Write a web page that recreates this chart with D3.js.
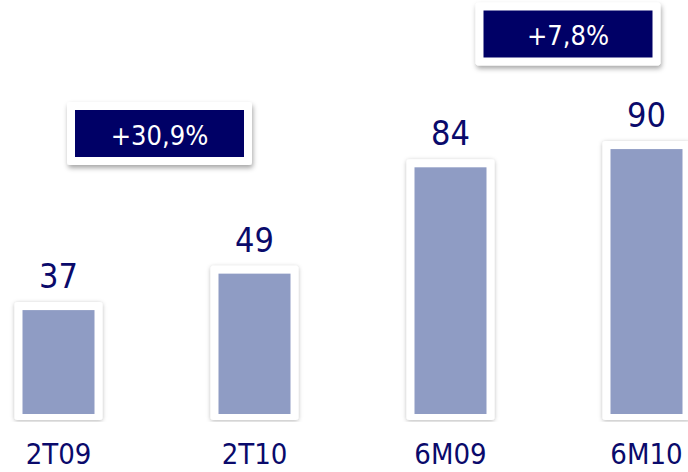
<!DOCTYPE html>
<html>
<head>
<meta charset="utf-8">
<script src="https://cdn.jsdelivr.net/npm/d3@7/dist/d3.min.js"></script>
<style>
  html, body { margin: 0; padding: 0; background: #ffffff; }
  svg { display: block; }
  text { font-family: "DejaVu Sans Condensed", "DejaVu Sans", Verdana, sans-serif; }
</style>
</head>
<body>
<script>
// ---- data ----
const categories = ["2T09", "2T10", "6M09", "6M10"];
const values = [37, 49, 84, 90];
const growthLabels = ["+30,9%", "+7,8%"];
const growthFrom = ["2T09", "6M09"];
const growthTo = ["2T10", "6M10"];

// ---- layout ----
const W = 688, H = 472;
const barW = 72, pad = 8;
const baseY = 414;

const svg = d3.select("body").append("svg").attr("width", W).attr("height", H);

const defs = svg.append("defs");
const f = defs.append("filter").attr("id", "shadow")
  .attr("x", "-20%").attr("y", "-20%").attr("width", "140%").attr("height", "150%");
f.append("feDropShadow").attr("dx", 0).attr("dy", 1).attr("stdDeviation", 2)
  .attr("flood-color", "#000").attr("flood-opacity", 0.28);
const f2 = defs.append("filter").attr("id", "shadow2")
  .attr("x", "-20%").attr("y", "-30%").attr("width", "140%").attr("height", "170%");
f2.append("feDropShadow").attr("dx", 1).attr("dy", 3).attr("stdDeviation", 2.5)
  .attr("flood-color", "#000").attr("flood-opacity", 0.35);
defs.append("clipPath").attr("id", "clipBase")
  .append("rect").attr("x", 0).attr("y", 0).attr("width", W).attr("height", baseY + pad);

const x = d3.scalePoint().domain(categories).range([58.5, 646.5]);
const y = d3.scaleLinear().domain([2.8, 100]).range([baseY, 118.7]);

const data = categories.map((c, i) => ({ c, v: values[i] }));

// frames (white with shadow)
const frames = svg.append("g").attr("clip-path", "url(#clipBase)");
frames.selectAll("rect").data(data).join("rect")
  .attr("x", d => x(d.c) - barW / 2 - pad)
  .attr("y", d => y(d.v) - pad)
  .attr("width", barW + 2 * pad)
  .attr("height", d => baseY - y(d.v) + pad + 6)
  .attr("rx", 3)
  .attr("fill", "#ffffff")
  .attr("filter", "url(#shadow)");

// bars
svg.append("g").selectAll("rect").data(data).join("rect")
  .attr("x", d => x(d.c) - barW / 2)
  .attr("y", d => y(d.v))
  .attr("width", barW)
  .attr("height", d => baseY - y(d.v))
  .attr("fill", "#8f9cc4");

// value labels
svg.append("g").selectAll("text").data(data).join("text")
  .attr("x", d => x(d.c))
  .attr("y", d => y(d.v) - 22)
  .attr("text-anchor", "middle")
  .attr("font-size", 34)
  .attr("fill", "#0a0a6b")
  .text(d => d.v);

// category labels
svg.append("g").selectAll("text").data(data).join("text")
  .attr("x", d => x(d.c))
  .attr("y", 464)
  .attr("text-anchor", "middle")
  .attr("font-size", 29)
  .attr("fill", "#0a0a6b")
  .text(d => d.c);

// growth boxes
const boxW = 169, boxH = 47;
const boxOffsetX = [3, 19.5];
const boxCenterY = [133.5, 34];
const growth = growthLabels.map((g, i) => ({
  g,
  cx: (x(growthFrom[i]) + x(growthTo[i])) / 2 + boxOffsetX[i],
  cy: boxCenterY[i]
}));
const gb = svg.append("g").selectAll("g").data(growth).join("g")
  .attr("transform", d => `translate(${d.cx},${d.cy})`);
gb.append("rect")
  .attr("x", -boxW / 2 - pad).attr("y", -boxH / 2 - pad)
  .attr("width", boxW + 2 * pad).attr("height", boxH + 2 * pad)
  .attr("rx", 3).attr("fill", "#ffffff").attr("filter", "url(#shadow2)");
gb.append("rect")
  .attr("x", -boxW / 2).attr("y", -boxH / 2)
  .attr("width", boxW).attr("height", boxH)
  .attr("fill", "#000066");
gb.append("text")
  .attr("x", 0).attr("y", 11)
  .attr("text-anchor", "middle")
  .attr("font-size", 27)
  .attr("fill", "#ffffff")
  .text(d => d.g);
</script>
</body>
</html>
